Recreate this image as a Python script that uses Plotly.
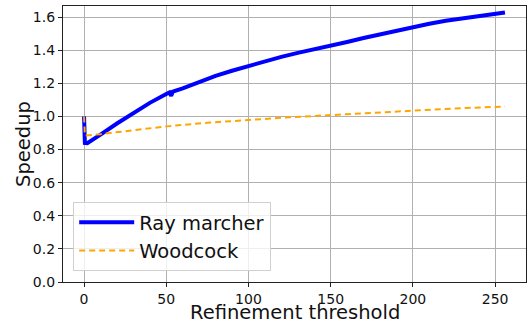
import plotly.graph_objects as go

ray_x = [0, 0.5, 2, 5, 10, 20, 30, 40, 50, 52, 53, 54, 60, 70, 80, 90, 100, 110, 120, 130,
         140, 150, 160, 170, 180, 190, 200, 210, 220, 230, 240, 250, 256]
ray_y = [1.0, 0.84, 0.838, 0.855, 0.89, 0.957, 1.022, 1.082, 1.135, 1.145, 1.125, 1.15,
         1.17, 1.21, 1.245, 1.276, 1.305, 1.334, 1.36, 1.384, 1.404, 1.425, 1.45, 1.474,
         1.496, 1.52, 1.54, 1.56, 1.578, 1.593, 1.606, 1.618, 1.628]

wood_x = [0, 0.5, 10, 25, 50, 75, 100, 125, 150, 175, 200, 225, 256]
wood_y = [1.0, 0.885, 0.893, 0.91, 0.94, 0.962, 0.98, 0.995, 1.008, 1.022, 1.036, 1.048, 1.06]

x_ticks = [0, 50, 100, 150, 200, 250]
y_ticks = [0.0, 0.2, 0.4, 0.6, 0.8, 1.0, 1.2, 1.4, 1.6]

x_title = "Refinement threshold"
y_title = "Speedup"

font = "DejaVu Sans"

fig = go.Figure()
fig.add_trace(go.Scatter(x=ray_x, y=ray_y, mode="lines", name="Ray marcher",
                         line=dict(color="#0000ff", width=4)))
fig.add_trace(go.Scatter(x=wood_x, y=wood_y, mode="lines", name="Woodcock",
                         line=dict(color="#ffa500", width=2, dash="6px,4px")))

axis_common = dict(
    showline=True, linecolor="#222", linewidth=1.2, mirror=True,
    ticks="outside", ticklen=4, tickcolor="#222", tickwidth=1,
    showgrid=True, gridcolor="#b0b0b0", gridwidth=1,
    zeroline=False, automargin=False,
    tickfont=dict(family=font, size=14, color="#111"),
)

fig.update_layout(
    width=528, height=324,
    margin=dict(l=63, r=2, t=6, b=42),
    paper_bgcolor="white", plot_bgcolor="white",
    font=dict(family=font, color="#111"),
    xaxis=dict(range=[-12.8, 268.8], tickvals=x_ticks, ticktext=[str(v) for v in x_ticks],
               **axis_common),
    yaxis=dict(range=[0, 1.667], tickvals=y_ticks, ticktext=[f"{v:.1f}" for v in y_ticks],
               **axis_common),
    legend=dict(x=0.022, y=0.04, xanchor="left", yanchor="bottom",
                bgcolor="rgba(255,255,255,0.8)", bordercolor="#d0d0d0", borderwidth=1,
                itemwidth=55,
                font=dict(family=font, size=19.5, color="#111")),
    showlegend=True,
    annotations=[
        dict(text=x_title, xref="paper", yref="paper", x=0.5, y=-0.112,
             xanchor="center", yanchor="middle", showarrow=False,
             font=dict(family=font, size=19.5, color="#111")),
        dict(text=y_title, xref="paper", yref="paper", x=-0.0864, y=0.5,
             xanchor="center", yanchor="middle", showarrow=False, textangle=-90,
             font=dict(family=font, size=19.5, color="#111")),
    ],
)

fig.write_html("out.html", config={"displayModeBar": False},
               post_script="document.body.style.margin='0';document.body.style.padding='0';")
